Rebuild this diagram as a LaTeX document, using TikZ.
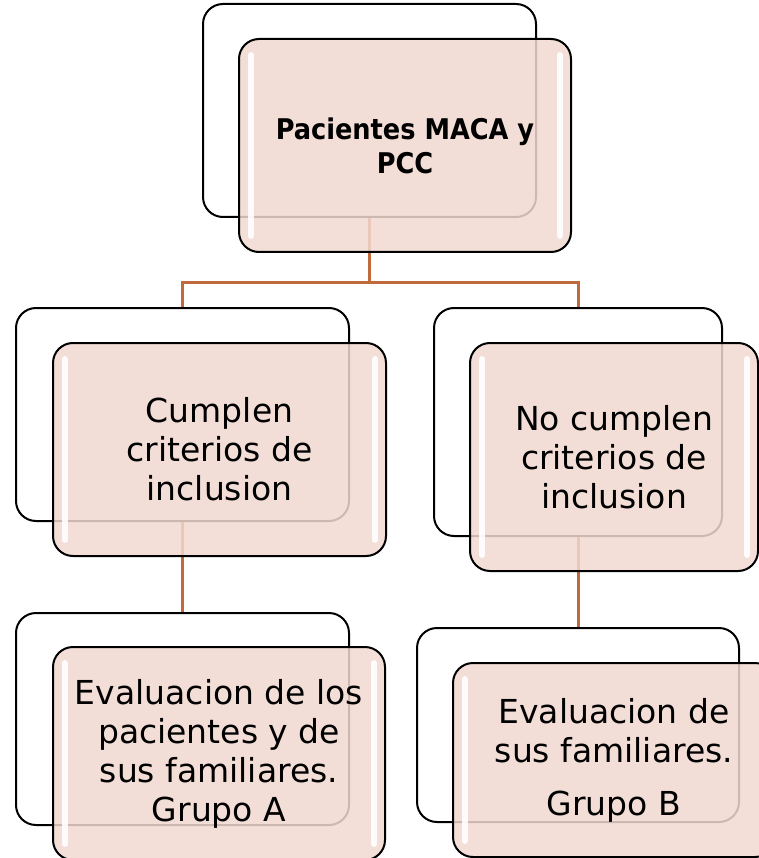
\documentclass[tikz,border=0pt]{standalone}
\usepackage{fontspec}
\setmainfont{DejaVu Sans}
\newfontfamily\cabeza{DejaVu Sans Condensed}
\definecolor{rosa}{HTML}{F1D9D1}
\definecolor{cobre}{HTML}{C0693A}
\begin{document}
\begin{tikzpicture}[x=1pt,y=-1pt]
  \tikzstyle{atras}=[draw=black,line width=2pt,fill=white,rounded corners=20pt,inner sep=0pt]
  \tikzstyle{frente}=[draw=black,line width=2pt,fill=rosa,fill opacity=0.85,text opacity=1,
                      rounded corners=20pt,inner sep=0pt,align=center,font=\fontsize{33}{39}\selectfont]
  \tikzstyle{rama}=[draw=cobre,line width=3pt]
  \tikzstyle{brillo}=[draw=white,line width=6pt,line cap=round,opacity=0.9]
  \useasboundingbox (0,0) rectangle (758,858);
  % cajas de fondo
  \node[atras,minimum width=333pt,minimum height=213pt] (b1) at (369.5,110.5) {};
  \node[atras,minimum width=333pt,minimum height=213pt] (b2) at (182.5,414.5) {};
  \node[atras,minimum width=288pt,minimum height=228pt] (b3) at (578,422) {};
  \node[atras,minimum width=333pt,minimum height=212pt] (b4) at (182.5,719) {};
  \node[atras,minimum width=322pt,minimum height=194pt] (b5) at (578,725) {};
  % ramas
  \coordinate (cruce) at (369.5,282);
  \draw[rama] (b1.south) -- (cruce) -| (b2.north);
  \draw[rama] (cruce) -| (b3.north);
  \draw[rama] (b2.south) -- (b4.north);
  \draw[rama] (b3.south) -- (b5.north);
  % cajas de frente
  \node[frente,minimum width=332pt,minimum height=213pt,font=\cabeza\bfseries\fontsize{28.5}{34}\selectfont] (f1) at (405,145.5)
       {Pacientes MACA y\\PCC};
  \node[frente,minimum width=333pt,minimum height=213pt] (f2) at (219.5,449.5)
       {Cumplen\\criterios de\\inclusion};
  \node[frente,minimum width=288pt,minimum height=228pt] (f3) at (614,457)
       {No cumplen\\criterios de\\inclusion};
  \node[frente,minimum width=332pt,minimum height=213pt] (f4) at (219,753.5)
       {Evaluacion de los\\pacientes y de\\sus familiares.\\Grupo A};
  \node[frente,minimum width=322pt,minimum height=194pt] (f5) at (614,760)
       {Evaluacion de\\sus familiares.\\[14pt]Grupo B};
  \foreach \n in {f1,f2,f3,f4,f5}{
    \draw[brillo] ([xshift=13pt,yshift=-17pt]\n.north west) -- ([xshift=13pt,yshift=17pt]\n.south west);
    \draw[brillo] ([xshift=-12pt,yshift=-17pt]\n.north east) -- ([xshift=-12pt,yshift=17pt]\n.south east);
  }
\end{tikzpicture}
\end{document}
